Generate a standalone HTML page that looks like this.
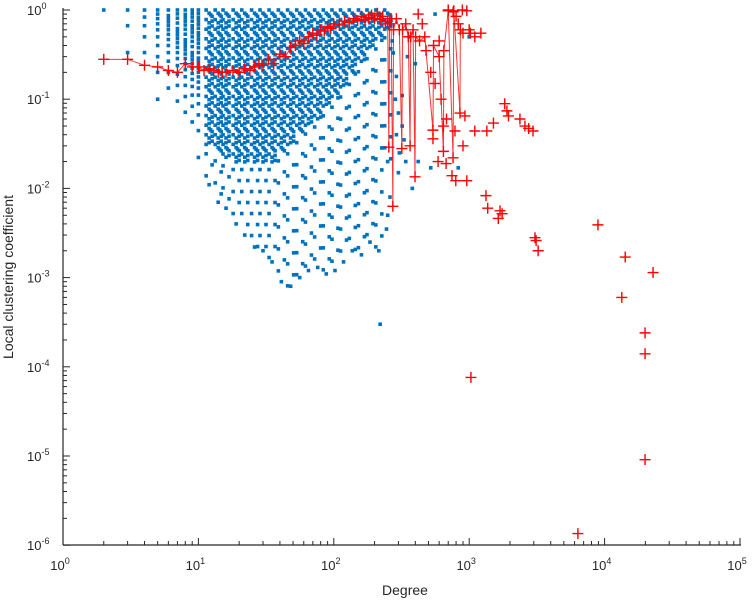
<!DOCTYPE html>
<html><head><meta charset="utf-8"><style>
body{margin:0;background:#fff;}
svg{display:block;font-family:"Liberation Sans",sans-serif;}
</style></head><body>
<svg id="chart" width="753" height="600" viewBox="0 0 753 600">
<g id="blue"></g>
<g id="redline"></g>
<g id="axes"></g>
<text x="405" y="595" font-size="14" text-anchor="middle" fill="#262626">Degree</text>
<text transform="translate(13,277) rotate(-90)" font-size="14" text-anchor="middle" fill="#262626">Local clustering coefficient</text>
</svg>
<script>
const xTicks=[0,1,2,3,4,5];
const yTicks=[0,-1,-2,-3,-4,-5,-6];
const blueDeg=[2,3,4,5,6,7,8,9,10,12,14,16,19,22,26,30,35,41,48,56,65,76,88,102,118,137,160,185,215,250];
const blueMin=[1,0.333,0.167,0.1,0.067,0.048,0.036,0.028,0.02,0.011,0.007,0.006,0.004,0.003,0.0022,0.002,0.0015,0.0009,0.0008,0.001,0.0012,0.0013,0.0011,0.0012,0.0015,0.002,0.0018,0.0025,0.002,0.02];
const blueDense=[1,0.333,0.167,0.1,0.067,0.048,0.036,0.03,0.03,0.03,0.025,0.022,0.02,0.02,0.02,0.02,0.02,0.025,0.03,0.04,0.05,0.06,0.08,0.1,0.13,0.18,0.25,0.35,0.45,0.6];
const blueExtraK=[270,275,290,285,300,290,320,305,300,330,340,320,350,360,400,420,520,560,830,1000,260,380,250,245,220];
const blueExtraC=[0.45,0.33,0.18,0.1,0.07,0.04,0.11,0.025,0.015,0.035,0.02,0.05,0.3,0.5,0.25,0.02,0.017,0.9,0.017,0.5,0.008,0.01,0.005,0.0035,0.0003];
const lineK=[2,3,4,5,6,7,8,9,10,11,12,13,14,15,16,18,20,22,24,26,28,30,33,36,40,44,48,52,56,60,65,70,75,80,85,90,95,100,110,120,130,140,150,160,170,180,190,200,210,220,230,240,250,255,258,265,273,276,290,305,318,322,340,355,366,370,385,398,402,430,470,540,545,600,645,650,700,760,770,855,860,900];
const lineC=[0.28,0.28,0.24,0.23,0.21,0.2,0.25,0.23,0.23,0.21,0.22,0.21,0.2,0.2,0.2,0.21,0.2,0.22,0.21,0.23,0.25,0.24,0.28,0.25,0.32,0.3,0.38,0.4,0.45,0.42,0.5,0.55,0.52,0.6,0.58,0.65,0.62,0.7,0.68,0.75,0.72,0.8,0.76,0.85,0.78,0.82,0.88,0.8,0.92,0.78,0.85,0.7,0.75,0.029,0.7,0.8,0.0063,0.6,0.8,0.6,0.028,0.6,0.7,0.5,0.03,0.5,0.6,0.0135,0.5,0.45,0.5,0.045,0.4,0.3,0.026,0.35,0.98,0.022,0.98,0.07,0.6,0.55];
const ptK=[540,589,675,746,796,960,785,900,645,930,1100,1350,1510,1830,1900,1950,2370,2580,2750,2960,1330,1370,1690,1750,1640,3060,3120,3230,8930,14200,22800,13400,19900,19900,1030,19900,6350,890,960,1000,1020,1100,1220,700,760,800,830,600,420,450,480,520,560,620,680];
const ptC=[0.036,0.02,0.019,0.0139,0.0122,0.0122,0.044,0.03,0.05,0.065,0.044,0.044,0.054,0.089,0.074,0.065,0.06,0.05,0.047,0.044,0.0083,0.006,0.0056,0.0052,0.0046,0.0028,0.0026,0.002,0.0039,0.0017,0.00114,0.0006,0.00024,0.00014,0.000076,0.0000091,0.00000135,1,0.98,0.6,0.55,0.5,0.55,1,0.95,0.85,0.7,0.45,0.9,0.7,0.35,0.2,0.15,0.1,0.06];
const NS='http://www.w3.org/2000/svg';
const X=k=>63+135.4*Math.log10(k);
const Y=c=>10-89.2*Math.log10(c);
function mk(t,a,p){const e=document.createElementNS(NS,t);for(const n in a)e.setAttribute(n,a[n]);p.appendChild(e);return e;}
const blue=document.getElementById('blue');
function dot(x,y){const e=mk('rect',{x:x-1.8,y:y-1.8,width:3.6,height:3.6,fill:'#0072BD'},blue);

}
blueDeg.forEach((k,i)=>{
  const x=X(k);
  if(k<=10){const C=k*(k-1)/2;let last=-99;
    for(let m=C;m>=1;m--){const c=m/C;if(c<blueMin[i]-1e-9)break;const y=Y(c);if(y-last>=3){dot(x,y);last=y;}}
  } else {
    const yd=Y(blueDense[i]),ym=Y(blueMin[i]);let n=0;
    for(let y=Y(1);y<=yd;y+=3.2){const o=[-3,0,3][n%3];dot(x+o,y);if(n%2)dot(x-o*0.5+1.5,y+1.5);n++;}
    n=0;for(let y=yd+8;y<=ym;y+=11){dot(x+(n%2?3:-3),y);n++;}
    dot(x,ym);
  }
});
blueExtraK.forEach((k,i)=>dot(X(k),Y(blueExtraC[i])));
const red=document.getElementById('redline');
const pl=mk('polyline',{points:lineK.map((k,i)=>X(k)+','+Y(lineC[i])).join(' '),fill:'none',stroke:'#ff0000','stroke-width':1,'stroke-opacity':0.8},red);


function cross(x,y){const e=mk('path',{d:`M${x-5.5},${y}H${x+5.5}M${x},${y-5.5}V${y+5.5}`,stroke:'#ff0000','stroke-width':1.4},red);

}
lineK.forEach((k,i)=>cross(X(k),Y(lineC[i])));
ptK.forEach((k,i)=>cross(X(k),Y(ptC[i])));
const ax=document.getElementById('axes');
const col='#262626';
mk('line',{x1:63,y1:545,x2:741,y2:545,stroke:col,'stroke-width':1.2},ax);
mk('line',{x1:63,y1:8,x2:63,y2:545,stroke:col,'stroke-width':1.2},ax);
xTicks.forEach(t=>{const x=63+135.4*t;
  mk('line',{x1:x,y1:545,x2:x,y2:538,stroke:col},ax);
  if(t<5)for(let m=2;m<10;m++){const xm=x+135.4*Math.log10(m);mk('line',{x1:xm,y1:545,x2:xm,y2:541,stroke:col},ax);}
  const tx=mk('text',{x:x-3,y:570,'font-size':13,'text-anchor':'middle',fill:col},ax);
  
  
  tx.innerHTML='10<tspan dy="-6" font-size="9">'+t+'</tspan>';
});
yTicks.forEach(t=>{const y=10-89.2*t;
  mk('line',{x1:63,y1:y,x2:70,y2:y,stroke:col},ax);
  if(t>-6)for(let m=2;m<10;m++){const ym=y-89.2*(Math.log10(m)-1);mk('line',{x1:63,y1:ym,x2:67,y2:ym,stroke:col},ax);}
  const tx=mk('text',{x:27,y:y+5,'font-size':13,'text-anchor':'start',fill:col},ax);
  
  
  tx.innerHTML='10<tspan dy="-6" font-size="9">'+t+'</tspan>';
});
</script>
</body></html>
